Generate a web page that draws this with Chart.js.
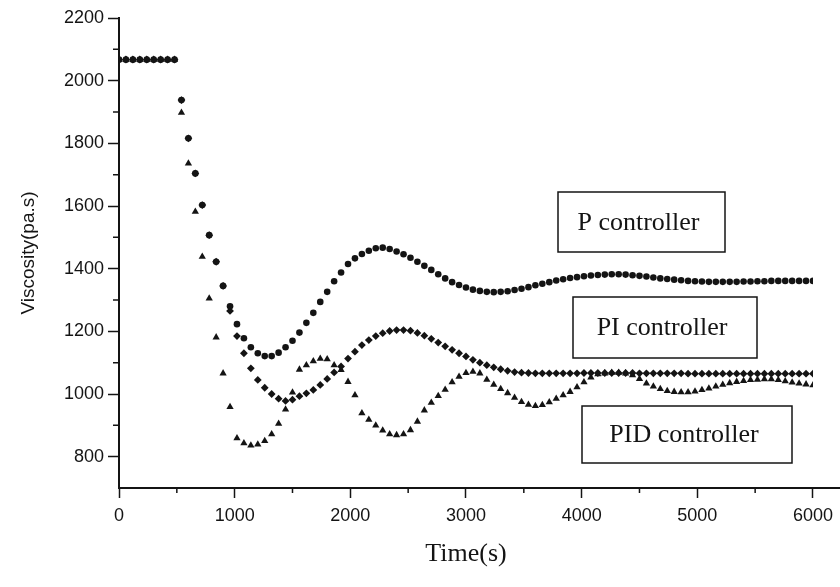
<!DOCTYPE html>
<html>
<head>
<meta charset="utf-8">
<script src="https://cdn.jsdelivr.net/npm/chart.js@4.4.1/dist/chart.umd.min.js"></script>
<style>
  body { margin: 0; background: #fff; }
  #wrap { width: 840px; height: 587px; }
</style>
</head>
<body>
<div id="wrap"><canvas id="myChart"></canvas></div>
<script>
// time axis (s)
var times = [0, 60, 120, 180, 240, 300, 360, 420, 480, 540,
  600, 660, 720, 780, 840, 900, 960, 1020, 1080, 1140,
  1200, 1260, 1320, 1380, 1440, 1500, 1560, 1620, 1680, 1740,
  1800, 1860, 1920, 1980, 2040, 2100, 2160, 2220, 2280, 2340,
  2400, 2460, 2520, 2580, 2640, 2700, 2760, 2820, 2880, 2940,
  3000, 3060, 3120, 3180, 3240, 3300, 3360, 3420, 3480, 3540,
  3600, 3660, 3720, 3780, 3840, 3900, 3960, 4020, 4080, 4140,
  4200, 4260, 4320, 4380, 4440, 4500, 4560, 4620, 4680, 4740,
  4800, 4860, 4920, 4980, 5040, 5100, 5160, 5220, 5280, 5340,
  5400, 5460, 5520, 5580, 5640, 5700, 5760, 5820, 5880, 5940, 6000];

// viscosity (pa.s) for each controller
var pValues = [2067, 2067, 2067, 2067, 2067, 2067, 2067, 2067, 2067, 1938,
  1816, 1704, 1603, 1507, 1422, 1345, 1280, 1223, 1178, 1149,
  1130, 1121, 1121, 1132, 1149, 1170, 1196, 1227, 1259, 1294,
  1326, 1360, 1388, 1415, 1433, 1447, 1457, 1465, 1467, 1463,
  1455, 1446, 1435, 1422, 1409, 1396, 1382, 1369, 1357, 1348,
  1340, 1333, 1329, 1326, 1325, 1326, 1328, 1332, 1336, 1341,
  1347, 1352, 1357, 1362, 1366, 1370, 1373, 1376, 1378, 1380,
  1381, 1382, 1382, 1381, 1379, 1377, 1375, 1372, 1369, 1367,
  1365, 1363, 1361, 1360, 1359, 1358, 1358, 1358, 1358, 1358,
  1359, 1359, 1360, 1360, 1361, 1361, 1361, 1361, 1361, 1361, 1361];

var piValues = [2067, 2067, 2067, 2067, 2067, 2067, 2067, 2067, 2067, 1938,
  1816, 1704, 1603, 1507, 1422, 1345, 1265, 1185, 1130, 1082,
  1045, 1020, 1000, 985, 978, 982, 993, 1002, 1013, 1029,
  1048, 1069, 1088, 1113, 1135, 1156, 1172, 1185, 1194, 1201,
  1204, 1204, 1202, 1195, 1186, 1176, 1164, 1152, 1141, 1130,
  1120, 1109, 1100, 1092, 1085, 1079, 1074, 1070, 1068, 1067,
  1066, 1066, 1066, 1066, 1066, 1066, 1066, 1067, 1067, 1067,
  1067, 1067, 1067, 1067, 1067, 1066, 1066, 1066, 1066, 1066,
  1066, 1066, 1065, 1065, 1065, 1065, 1065, 1065, 1065, 1065,
  1065, 1065, 1065, 1065, 1065, 1065, 1065, 1065, 1065, 1065, 1065];

var pidValues = [2067, 2067, 2067, 2067, 2067, 2067, 2067, 2067, 2067, 1898,
  1736, 1582, 1438, 1305, 1181, 1066, 959, 859, 843, 836,
  839, 850, 872, 905, 951, 1005, 1078, 1092, 1105, 1113,
  1111, 1092, 1077, 1039, 996, 939, 918, 900, 884, 872,
  869, 872, 885, 912, 948, 972, 994, 1014, 1038, 1055,
  1067, 1071, 1066, 1046, 1030, 1016, 1003, 988, 975, 966,
  962, 965, 974, 985, 996, 1007, 1022, 1038, 1053, 1063,
  1066, 1068, 1068, 1066, 1060, 1048, 1034, 1024, 1016, 1010,
  1007, 1006, 1006, 1008, 1013, 1018, 1024, 1030, 1035, 1039,
  1042, 1045, 1046, 1047, 1047, 1045, 1041, 1037, 1034, 1031, 1028];

var seriesNames = ['P controller', 'PI controller', 'PID controller'];
var xTicks = [0, 1000, 2000, 3000, 4000, 5000, 6000];
var yTicks = [800, 1000, 1200, 1400, 1600, 1800, 2000, 2200];
var xMinor = [500, 1500, 2500, 3500, 4500, 5500];
var yMinor = [900, 1100, 1300, 1500, 1700, 1900, 2100];

function toPoints(vals) {
  return times.map(function (t, i) { return { x: t, y: vals[i] }; });
}

var ink = '#141414';

// minor ticks, axis tail and the boxed labels
var extras = {
  id: 'extras',
  afterDraw: function (chart) {
    var ctx = chart.ctx, a = chart.chartArea;
    var xs = chart.scales.x, ys = chart.scales.y;
    ctx.save();
    ctx.strokeStyle = ink;
    ctx.lineWidth = 1.5;
    ctx.beginPath();
    xMinor.forEach(function (v) {
      var px = xs.getPixelForValue(v);
      ctx.moveTo(px, a.bottom); ctx.lineTo(px, a.bottom + 5);
    });
    yMinor.forEach(function (v) {
      var py = ys.getPixelForValue(v);
      ctx.moveTo(a.left, py); ctx.lineTo(a.left - 6, py);
    });
    ctx.stroke();
    ctx.lineWidth = 2;
    ctx.beginPath();
    ctx.moveTo(a.right, a.bottom); ctx.lineTo(chart.width, a.bottom);
    ctx.stroke();

    var boxes = [[558, 192, 725, 252], [573, 297, 757, 358], [582, 406, 792, 463]];
    ctx.lineWidth = 1.5;
    ctx.font = '26px "Liberation Serif"';
    ctx.fillStyle = ink;
    ctx.textAlign = 'center';
    ctx.textBaseline = 'middle';
    boxes.forEach(function (b, i) {
      ctx.strokeRect(b[0], b[1], b[2] - b[0], b[3] - b[1]);
      ctx.fillText(seriesNames[i], (b[0] + b[2]) / 2 - 3, (b[1] + b[3]) / 2 + 1);
    });
    ctx.restore();
  }
};

function plainLabel(v) { return String(v); }

var ctx = document.getElementById('myChart').getContext('2d');
var myChart = new Chart(ctx, {
  type: 'scatter',
  data: {
    datasets: [{
      label: seriesNames[0],
      data: toPoints(pValues),
      pointStyle: 'circle',
      pointRadius: 3.3,
      backgroundColor: ink,
      borderWidth: 0
    }, {
      label: seriesNames[1],
      data: toPoints(piValues),
      pointStyle: 'rectRot',
      pointRadius: 3.9,
      backgroundColor: ink,
      borderWidth: 0
    }, {
      label: seriesNames[2],
      data: toPoints(pidValues),
      pointStyle: 'triangle',
      pointRadius: 4.2,
      backgroundColor: ink,
      borderWidth: 0
    }]
  },
  options: {
    responsive: true,
    maintainAspectRatio: false,
    animation: false,
    layout: { padding: { top: 18, right: 21, left: 0, bottom: 0 } },
    plugins: { legend: { display: false }, tooltip: { enabled: false } },
    scales: {
      x: {
        type: 'linear',
        min: 0,
        max: 6000,
        afterBuildTicks: function (s) { s.ticks = xTicks.map(function (v) { return { value: v }; }); },
        afterFit: function (s) { s.height = 99; },
        border: { display: true, color: ink, width: 2 },
        grid: { drawOnChartArea: false, drawTicks: true, tickLength: 10, tickColor: ink, tickWidth: 1.5 },
        ticks: { color: ink, padding: 7, maxRotation: 0, callback: plainLabel,
          font: { family: 'Liberation Sans', size: 18 } },
        title: { display: true, text: 'Time(s)', color: ink, padding: { top: 4, bottom: 17 },
          font: { family: 'Liberation Serif', size: 26 } }
      },
      y: {
        type: 'linear',
        min: 700,
        max: 2200,
        afterBuildTicks: function (s) { s.ticks = yTicks.map(function (v) { return { value: v }; }); },
        afterFit: function (s) { s.width = 119; },
        border: { display: true, color: ink, width: 2 },
        grid: { drawOnChartArea: false, drawTicks: true, tickLength: 11, tickColor: ink, tickWidth: 1.5 },
        ticks: { color: ink, padding: 4, callback: plainLabel,
          font: { family: 'Liberation Sans', size: 18 } },
        title: { display: true, text: 'Viscosity(pa.s)', color: ink, padding: { top: 17, bottom: 4 },
          font: { family: 'Liberation Sans', size: 19 } }
      }
    }
  },
  plugins: [extras]
});
</script>
</body>
</html>
